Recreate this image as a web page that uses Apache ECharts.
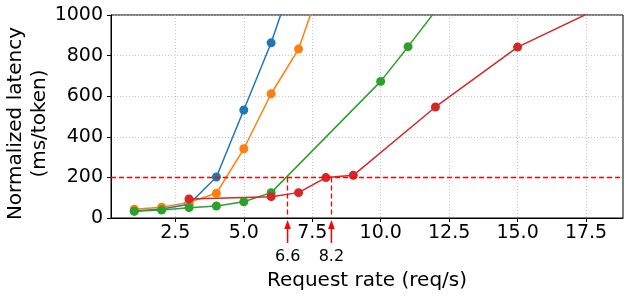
<!DOCTYPE html>
<html><head><meta charset="utf-8">
<script src="https://cdn.jsdelivr.net/npm/echarts@6/dist/echarts.min.js"></script>
<style>html,body{margin:0;padding:0;background:#fff}#c{width:630px;height:298px}</style>
</head><body><div id="c"></div>
<script>
const blueX = [1, 2, 3, 4, 5, 6, 7];
const blueY = [35, 44, 68, 202, 532, 863, 1260];
const orangeX = [1, 2, 3, 4, 5, 6, 7, 8];
const orangeY = [43, 53, 77, 122, 341, 612, 832, 1220];
const greenX = [1, 2, 3, 4, 5, 6, 10, 11, 12];
const greenY = [33, 39, 51, 59, 80, 125, 673, 844, 1020];
const redX = [3, 6, 7, 8, 9, 12, 15, 18];
const redY = [94, 105, 125, 199, 210, 547, 842, 1035];
const xTicks = [2.5, 5.0, 7.5, 10.0, 12.5, 15.0, 17.5];
const sloLatency = 200;
const sloRates = [6.6, 8.2];
const xTitle = 'Request rate (req/s)';
const yTitle = 'Normalized latency\n(ms/token)';

const FONT = 'DejaVu Sans';
function pairs(xs, ys) { return xs.map((x, i) => [x, ys[i]]); }
function mk(name, color, xs, ys, extra) {
  return Object.assign({
    name, type: 'line', data: pairs(xs, ys), color,
    symbol: 'circle', symbolSize: 9, showSymbol: true,
    lineStyle: { width: 1.5, color }, itemStyle: { color },
    clip: true, animation: false, emphasis: { disabled: true }
  }, extra || {});
}
const chart = echarts.init(document.getElementById('c'), null, { renderer: 'canvas' });
const option = {
  animation: false,
  grid: { left: 111, right: 7, top: 15, bottom: 80, show: true, borderColor: '#000', borderWidth: 1,
    containLabel: false, outerBoundsMode: 'none' },
  xAxis: {
    type: 'value', min: 0.15, max: 18.85,
    axisLine: { show: true, lineStyle: { color: '#000', width: 1 } },
    axisTick: { show: true, length: 4, customValues: xTicks, lineStyle: { color: '#000' } },
    axisLabel: { customValues: xTicks, fontFamily: FONT, fontSize: 19, color: '#000', margin: 6,
      formatter: v => Number(v).toFixed(1) },
    splitLine: { show: true, lineStyle: { color: '#b8b8b8', type: [1, 2], width: 0.8 } },
    name: xTitle, nameLocation: 'middle', nameGap: 53, nameMoveOverlap: false,
    nameTextStyle: { fontFamily: FONT, fontSize: 20, color: '#000' }
  },
  yAxis: {
    type: 'value', min: 0, max: 1000, interval: 200,
    axisLine: { show: true, lineStyle: { color: '#000', width: 1 } },
    axisTick: { show: true, length: 4, lineStyle: { color: '#000' } },
    axisLabel: { fontFamily: FONT, fontSize: 19, color: '#000', margin: 8, formatter: v => String(v) },
    splitLine: { show: true, lineStyle: { color: '#b8b8b8', type: [1, 2], width: 0.8 } },
    name: yTitle, nameLocation: 'middle', nameGap: 59, nameRotate: 90, nameMoveOverlap: false,
    nameTextStyle: { fontFamily: FONT, fontSize: 20, color: '#000', lineHeight: 24, align: 'center', padding: [0, 14, 0, 0] }
  },
  series: [
    mk('s1', '#1f77b4', blueX, blueY),
    mk('s2', '#ff7f0e', orangeX, orangeY),
    mk('s3', '#2ca02c', greenX, greenY),
    mk('s4', '#d62728', redX, redY, {
      markLine: {
        silent: true, symbol: 'none', label: { show: false }, animation: false,
        lineStyle: { color: '#ff0000', type: [5, 3], width: 1.3 },
        data: [{ yAxis: sloLatency }].concat(sloRates.map(r => [{ coord: [r, sloLatency] }, { coord: [r, 0] }]))
      }
    })
  ]
};
chart.setOption(option);

const graphics = [];
sloRates.forEach(r => {
  const p = chart.convertToPixel({ xAxisIndex: 0, yAxisIndex: 0 }, [r, 0]);
  const x = p[0], y0 = p[1];
  graphics.push({ type: 'line', shape: { x1: x, y1: y0 + 10, x2: x, y2: y0 + 25 }, style: { stroke: '#ff0000', lineWidth: 1.5 }, silent: true });
  graphics.push({ type: 'polygon', shape: { points: [[x, y0 + 2], [x - 3.3, y0 + 11], [x + 3.3, y0 + 11]] }, style: { fill: '#ff0000' }, silent: true });
  graphics.push({ type: 'text', x: x, y: y0 + 39, style: { text: r.toFixed(1), font: '16px "DejaVu Sans"', fill: '#000', align: 'center', verticalAlign: 'middle' }, silent: true });
});
chart.setOption({ graphic: graphics });
</script></body></html>
